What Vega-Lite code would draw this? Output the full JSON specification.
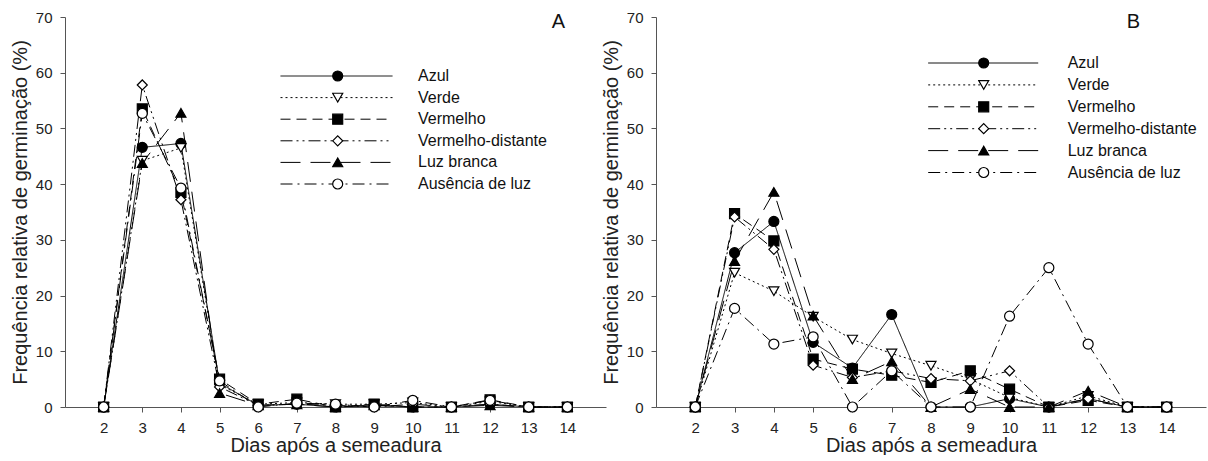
{
"$schema":"https://vega.github.io/schema/vega-lite/v6.json",
"background":"white",
"padding":{"left":10,"top":10,"right":2,"bottom":0},
"config":{
 "font":"Arial",
 "view":{"stroke":null},
 "axis":{"domainColor":"#555","tickColor":"#555","labelColor":"#222","titleColor":"#222","labelFont":"Arial","titleFont":"Arial","labelFontSize":15,"titleFontSize":20,"titleFontWeight":"normal","grid":false,"tickSize":5,"labelPadding":8},
 "concat":{"spacing":-5}
},
"datasets":{
 "a":[
  {"tratamento":"Azul","dia":2,"freq":0},{"tratamento":"Azul","dia":3,"freq":46.6},{"tratamento":"Azul","dia":4,"freq":47.3},{"tratamento":"Azul","dia":5,"freq":4.3},{"tratamento":"Azul","dia":6,"freq":0.3},{"tratamento":"Azul","dia":7,"freq":0.5},{"tratamento":"Azul","dia":8,"freq":0},{"tratamento":"Azul","dia":9,"freq":0.3},{"tratamento":"Azul","dia":10,"freq":0},{"tratamento":"Azul","dia":11,"freq":0},{"tratamento":"Azul","dia":12,"freq":0.5},{"tratamento":"Azul","dia":13,"freq":0},{"tratamento":"Azul","dia":14,"freq":0},
  {"tratamento":"Verde","dia":2,"freq":0},{"tratamento":"Verde","dia":3,"freq":44.2},{"tratamento":"Verde","dia":4,"freq":46.5},{"tratamento":"Verde","dia":5,"freq":4.0},{"tratamento":"Verde","dia":6,"freq":0.5},{"tratamento":"Verde","dia":7,"freq":0.8},{"tratamento":"Verde","dia":8,"freq":0.5},{"tratamento":"Verde","dia":9,"freq":0.5},{"tratamento":"Verde","dia":10,"freq":0.8},{"tratamento":"Verde","dia":11,"freq":0},{"tratamento":"Verde","dia":12,"freq":1.0},{"tratamento":"Verde","dia":13,"freq":0},{"tratamento":"Verde","dia":14,"freq":0},
  {"tratamento":"Vermelho","dia":2,"freq":0},{"tratamento":"Vermelho","dia":3,"freq":53.5},{"tratamento":"Vermelho","dia":4,"freq":38.5},{"tratamento":"Vermelho","dia":5,"freq":5.0},{"tratamento":"Vermelho","dia":6,"freq":0.5},{"tratamento":"Vermelho","dia":7,"freq":1.4},{"tratamento":"Vermelho","dia":8,"freq":0},{"tratamento":"Vermelho","dia":9,"freq":0.5},{"tratamento":"Vermelho","dia":10,"freq":0},{"tratamento":"Vermelho","dia":11,"freq":0},{"tratamento":"Vermelho","dia":12,"freq":1.3},{"tratamento":"Vermelho","dia":13,"freq":0},{"tratamento":"Vermelho","dia":14,"freq":0},
  {"tratamento":"Vermelho-distante","dia":2,"freq":0},{"tratamento":"Vermelho-distante","dia":3,"freq":57.8},{"tratamento":"Vermelho-distante","dia":4,"freq":37.2},{"tratamento":"Vermelho-distante","dia":5,"freq":3.6},{"tratamento":"Vermelho-distante","dia":6,"freq":0.3},{"tratamento":"Vermelho-distante","dia":7,"freq":0.5},{"tratamento":"Vermelho-distante","dia":8,"freq":0.3},{"tratamento":"Vermelho-distante","dia":9,"freq":0},{"tratamento":"Vermelho-distante","dia":10,"freq":0.5},{"tratamento":"Vermelho-distante","dia":11,"freq":0},{"tratamento":"Vermelho-distante","dia":12,"freq":0.5},{"tratamento":"Vermelho-distante","dia":13,"freq":0},{"tratamento":"Vermelho-distante","dia":14,"freq":0},
  {"tratamento":"Luz branca","dia":2,"freq":0},{"tratamento":"Luz branca","dia":3,"freq":43.8},{"tratamento":"Luz branca","dia":4,"freq":52.8},{"tratamento":"Luz branca","dia":5,"freq":2.5},{"tratamento":"Luz branca","dia":6,"freq":0.3},{"tratamento":"Luz branca","dia":7,"freq":0.5},{"tratamento":"Luz branca","dia":8,"freq":0},{"tratamento":"Luz branca","dia":9,"freq":0.3},{"tratamento":"Luz branca","dia":10,"freq":0},{"tratamento":"Luz branca","dia":11,"freq":0},{"tratamento":"Luz branca","dia":12,"freq":0.3},{"tratamento":"Luz branca","dia":13,"freq":0},{"tratamento":"Luz branca","dia":14,"freq":0},
  {"tratamento":"Ausência de luz","dia":2,"freq":0},{"tratamento":"Ausência de luz","dia":3,"freq":52.7},{"tratamento":"Ausência de luz","dia":4,"freq":39.3},{"tratamento":"Ausência de luz","dia":5,"freq":4.7},{"tratamento":"Ausência de luz","dia":6,"freq":0},{"tratamento":"Ausência de luz","dia":7,"freq":0.7},{"tratamento":"Ausência de luz","dia":8,"freq":0.5},{"tratamento":"Ausência de luz","dia":9,"freq":0},{"tratamento":"Ausência de luz","dia":10,"freq":1.2},{"tratamento":"Ausência de luz","dia":11,"freq":0},{"tratamento":"Ausência de luz","dia":12,"freq":1.2},{"tratamento":"Ausência de luz","dia":13,"freq":0},{"tratamento":"Ausência de luz","dia":14,"freq":0}
 ],
 "b":[
  {"tratamento":"Azul","dia":2,"freq":0},{"tratamento":"Azul","dia":3,"freq":27.7},{"tratamento":"Azul","dia":4,"freq":33.3},{"tratamento":"Azul","dia":5,"freq":11.6},{"tratamento":"Azul","dia":6,"freq":7.0},{"tratamento":"Azul","dia":7,"freq":16.6},{"tratamento":"Azul","dia":8,"freq":0},{"tratamento":"Azul","dia":9,"freq":0},{"tratamento":"Azul","dia":10,"freq":1.5},{"tratamento":"Azul","dia":11,"freq":0},{"tratamento":"Azul","dia":12,"freq":1.5},{"tratamento":"Azul","dia":13,"freq":0},{"tratamento":"Azul","dia":14,"freq":0},
  {"tratamento":"Verde","dia":2,"freq":0},{"tratamento":"Verde","dia":3,"freq":24.1},{"tratamento":"Verde","dia":4,"freq":20.8},{"tratamento":"Verde","dia":5,"freq":16.2},{"tratamento":"Verde","dia":6,"freq":12.1},{"tratamento":"Verde","dia":7,"freq":9.6},{"tratamento":"Verde","dia":8,"freq":7.4},{"tratamento":"Verde","dia":9,"freq":5.0},{"tratamento":"Verde","dia":10,"freq":1.7},{"tratamento":"Verde","dia":11,"freq":0},{"tratamento":"Verde","dia":12,"freq":2.0},{"tratamento":"Verde","dia":13,"freq":0},{"tratamento":"Verde","dia":14,"freq":0},
  {"tratamento":"Vermelho","dia":2,"freq":0},{"tratamento":"Vermelho","dia":3,"freq":34.7},{"tratamento":"Vermelho","dia":4,"freq":29.8},{"tratamento":"Vermelho","dia":5,"freq":8.6},{"tratamento":"Vermelho","dia":6,"freq":6.8},{"tratamento":"Vermelho","dia":7,"freq":5.7},{"tratamento":"Vermelho","dia":8,"freq":4.4},{"tratamento":"Vermelho","dia":9,"freq":6.5},{"tratamento":"Vermelho","dia":10,"freq":3.2},{"tratamento":"Vermelho","dia":11,"freq":0},{"tratamento":"Vermelho","dia":12,"freq":1.2},{"tratamento":"Vermelho","dia":13,"freq":0},{"tratamento":"Vermelho","dia":14,"freq":0},
  {"tratamento":"Vermelho-distante","dia":2,"freq":0},{"tratamento":"Vermelho-distante","dia":3,"freq":34.1},{"tratamento":"Vermelho-distante","dia":4,"freq":28.3},{"tratamento":"Vermelho-distante","dia":5,"freq":7.5},{"tratamento":"Vermelho-distante","dia":6,"freq":5.3},{"tratamento":"Vermelho-distante","dia":7,"freq":6.5},{"tratamento":"Vermelho-distante","dia":8,"freq":5.1},{"tratamento":"Vermelho-distante","dia":9,"freq":4.7},{"tratamento":"Vermelho-distante","dia":10,"freq":6.5},{"tratamento":"Vermelho-distante","dia":11,"freq":0},{"tratamento":"Vermelho-distante","dia":12,"freq":1.5},{"tratamento":"Vermelho-distante","dia":13,"freq":0},{"tratamento":"Vermelho-distante","dia":14,"freq":0},
  {"tratamento":"Luz branca","dia":2,"freq":0},{"tratamento":"Luz branca","dia":3,"freq":26.2},{"tratamento":"Luz branca","dia":4,"freq":38.6},{"tratamento":"Luz branca","dia":5,"freq":16.4},{"tratamento":"Luz branca","dia":6,"freq":5.0},{"tratamento":"Luz branca","dia":7,"freq":8.2},{"tratamento":"Luz branca","dia":8,"freq":0},{"tratamento":"Luz branca","dia":9,"freq":3.2},{"tratamento":"Luz branca","dia":10,"freq":0},{"tratamento":"Luz branca","dia":11,"freq":0},{"tratamento":"Luz branca","dia":12,"freq":2.9},{"tratamento":"Luz branca","dia":13,"freq":0},{"tratamento":"Luz branca","dia":14,"freq":0},
  {"tratamento":"Ausência de luz","dia":2,"freq":0},{"tratamento":"Ausência de luz","dia":3,"freq":17.7},{"tratamento":"Ausência de luz","dia":4,"freq":11.3},{"tratamento":"Ausência de luz","dia":5,"freq":12.6},{"tratamento":"Ausência de luz","dia":6,"freq":0},{"tratamento":"Ausência de luz","dia":7,"freq":6.5},{"tratamento":"Ausência de luz","dia":8,"freq":0},{"tratamento":"Ausência de luz","dia":9,"freq":0},{"tratamento":"Ausência de luz","dia":10,"freq":16.3},{"tratamento":"Ausência de luz","dia":11,"freq":25.0},{"tratamento":"Ausência de luz","dia":12,"freq":11.3},{"tratamento":"Ausência de luz","dia":13,"freq":0},{"tratamento":"Ausência de luz","dia":14,"freq":0}
 ]
},
"hconcat":[
 {
  "width":541,"height":390,
  "data":{"name":"a"},
  "title":{"text":"A","anchor":"end","orient":"top","offset":-22,"dx":-41,"fontSize":20,"fontWeight":"normal","font":"Arial","color":"#111"},
  "layer":[
   {"mark":{"type":"line","stroke":"black","strokeWidth":1},
    "encoding":{
     "x":{"field":"dia","type":"quantitative","scale":{"domain":[1,15],"nice":false},"axis":{"values":[2,3,4,5,6,7,8,9,10,11,12,13,14],"title":"Dias após a semeadura","titlePadding":0}},
     "y":{"field":"freq","type":"quantitative","scale":{"domain":[0,70],"nice":false},"axis":{"values":[0,10,20,30,40,50,60,70],"title":"Frequência relativa de germinação (%)","titlePadding":5}},
     "strokeDash":{"field":"tratamento","type":"nominal","sort":["Azul","Verde","Vermelho","Vermelho-distante","Luz branca","Ausência de luz"],
       "scale":{"range":[[1,0],[2,3],[10,6],[12,4,2,4,2,4],[20,10],[12,5,2,5]]},
       "legend":{"orient":"none","legendX":215,"legendY":49,"title":null,"symbolType":"stroke","symbolSize":12544,"symbolStrokeColor":"black","symbolStrokeWidth":1,"clipHeight":20,"rowPadding":1.6,"labelFontSize":16,"labelOffset":25,"labelColor":"#111","labelFont":"Arial","padding":0}}
    }},
   {"mark":{"type":"point","filled":true,"stroke":"black","strokeWidth":1.2,"size":100,"opacity":1},
    "encoding":{
     "x":{"field":"dia","type":"quantitative"},
     "y":{"field":"freq","type":"quantitative"},
     "shape":{"field":"tratamento","type":"nominal","scale":{"domain":["Azul","Verde","Vermelho","Vermelho-distante","Luz branca","Ausência de luz"],"range":["circle","triangle-down","square","diamond","triangle-up","circle"]},
       "legend":{"orient":"none","legendX":266.7,"legendY":49,"title":null,"clipHeight":20,"rowPadding":1.6,"labelExpr":"''","symbolSize":100,"symbolStrokeColor":"black","symbolStrokeWidth":1.2,"symbolOpacity":1,"padding":0,"encode":{"symbols":{"update":{"stroke":{"value":"black"},"strokeWidth":{"value":1.2}}}}}},
     "fill":{"field":"tratamento","type":"nominal","scale":{"domain":["Azul","Verde","Vermelho","Vermelho-distante","Luz branca","Ausência de luz"],"range":["black","white","black","white","black","white"]},
       "legend":{"orient":"none","legendX":266.7,"legendY":49,"title":null,"clipHeight":20,"rowPadding":1.6,"labelExpr":"''","symbolSize":100,"symbolStrokeColor":"black","symbolStrokeWidth":1.2,"symbolOpacity":1,"padding":0,"encode":{"symbols":{"update":{"stroke":{"value":"black"},"strokeWidth":{"value":1.2}}}}}}
    }}
  ]
 },
 {
  "width":550,"height":390,
  "data":{"name":"b"},
  "title":{"text":"B","anchor":"end","orient":"top","offset":-22,"dx":-66,"fontSize":20,"fontWeight":"normal","font":"Arial","color":"#111"},
  "layer":[
   {"mark":{"type":"line","stroke":"black","strokeWidth":1},
    "encoding":{
     "x":{"field":"dia","type":"quantitative","scale":{"domain":[1,15],"nice":false},"axis":{"values":[2,3,4,5,6,7,8,9,10,11,12,13,14],"title":"Dias após a semeadura","titlePadding":0}},
     "y":{"field":"freq","type":"quantitative","scale":{"domain":[0,70],"nice":false},"axis":{"values":[0,10,20,30,40,50,60,70],"title":"Frequência relativa de germinação (%)","titlePadding":5}},
     "strokeDash":{"field":"tratamento","type":"nominal","sort":["Azul","Verde","Vermelho","Vermelho-distante","Luz branca","Ausência de luz"],
       "scale":{"range":[[1,0],[2,3],[10,6],[12,4,2,4,2,4],[20,10],[12,5,2,5]]},
       "legend":{"orient":"none","legendX":271.7,"legendY":36,"title":null,"symbolType":"stroke","symbolSize":12100,"symbolStrokeColor":"black","symbolStrokeWidth":1,"clipHeight":20,"rowPadding":1.9,"labelFontSize":16,"labelOffset":29,"labelColor":"#111","labelFont":"Arial","padding":0}}
    }},
   {"mark":{"type":"point","filled":true,"stroke":"black","strokeWidth":1.2,"size":100,"opacity":1},
    "encoding":{
     "x":{"field":"dia","type":"quantitative"},
     "y":{"field":"freq","type":"quantitative"},
     "shape":{"field":"tratamento","type":"nominal","scale":{"domain":["Azul","Verde","Vermelho","Vermelho-distante","Luz branca","Ausência de luz"],"range":["circle","triangle-down","square","diamond","triangle-up","circle"]},
       "legend":{"orient":"none","legendX":321.7,"legendY":36,"title":null,"clipHeight":20,"rowPadding":1.9,"labelExpr":"''","symbolSize":100,"symbolStrokeColor":"black","symbolStrokeWidth":1.2,"symbolOpacity":1,"padding":0,"encode":{"symbols":{"update":{"stroke":{"value":"black"},"strokeWidth":{"value":1.2}}}}}},
     "fill":{"field":"tratamento","type":"nominal","scale":{"domain":["Azul","Verde","Vermelho","Vermelho-distante","Luz branca","Ausência de luz"],"range":["black","white","black","white","black","white"]},
       "legend":{"orient":"none","legendX":321.7,"legendY":36,"title":null,"clipHeight":20,"rowPadding":1.9,"labelExpr":"''","symbolSize":100,"symbolStrokeColor":"black","symbolStrokeWidth":1.2,"symbolOpacity":1,"padding":0,"encode":{"symbols":{"update":{"stroke":{"value":"black"},"strokeWidth":{"value":1.2}}}}}}
    }}
  ]
 }
],
"resolve":{"legend":{"strokeDash":"independent","shape":"independent","fill":"independent"}}
}
